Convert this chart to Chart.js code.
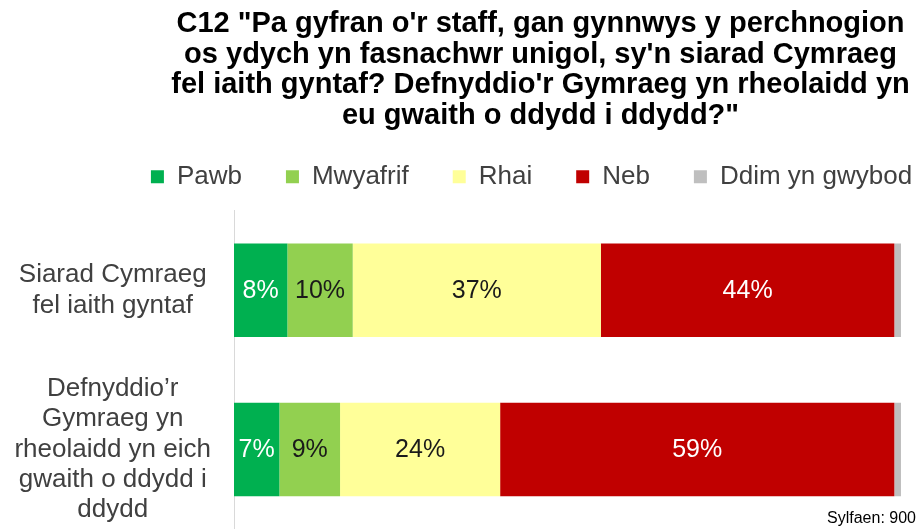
<!DOCTYPE html>
<html>
<head>
<meta charset="utf-8">
<script src="https://cdn.jsdelivr.net/npm/chart.js@4.4.0/dist/chart.umd.min.js"></script>
<style>
  html, body { margin: 0; padding: 0; background: #fff; }
  #wrap { width: 921px; height: 529px; position: relative; }
</style>
</head>
<body>
<div id="wrap"><canvas id="c12Chart"></canvas></div>
<script>
// Chart text + values
const titleLines = [
    'C12 "Pa gyfran o\'r staff, gan gynnwys y perchnogion',
    "os ydych yn fasnachwr unigol, sy'n siarad Cymraeg",
    "fel iaith gyntaf? Defnyddio'r Gymraeg yn rheolaidd yn",
    'eu gwaith o ddydd i ddydd?"'
];
const categories = [
    ['Siarad Cymraeg', 'fel iaith gyntaf'],
    ['Defnyddio’r', 'Gymraeg yn', 'rheolaidd yn eich', 'gwaith o ddydd i', 'ddydd']
];
const seriesNames = ['Pawb', 'Mwyafrif', 'Rhai', 'Neb', 'Ddim yn gwybod'];
const pawb = [8.0, 6.8];
const mwyafrif = [9.8, 9.1];
const rhai = [37.2, 24.0];
const neb = [44.0, 59.1];
const ddim = [1.0, 1.0];
const baseNote = 'Sylfaen: 900';

const FONT = '"Liberation Sans", Arial, sans-serif';

// percentage labels in the middle of each segment
const barLabels = {
    id: 'barLabels',
    afterDatasetsDraw(chart) {
        const ctx = chart.ctx;
        ctx.save();
        ctx.font = '25px ' + FONT;
        ctx.textAlign = 'center';
        ctx.textBaseline = 'middle';
        chart.data.datasets.forEach((ds, i) => {
            if (!ds.labelColor) return;
            chart.getDatasetMeta(i).data.forEach((bar, j) => {
                const c = bar.getCenterPoint();
                ctx.fillStyle = ds.labelColor;
                ctx.fillText(Math.round(ds.data[j]) + '%', c.x, c.y + 1);
            });
        });
        ctx.restore();
    }
};

// "Sylfaen" note, bottom right
const baseText = {
    id: 'baseText',
    afterDraw(chart) {
        const ctx = chart.ctx;
        ctx.save();
        ctx.font = '16px ' + FONT;
        ctx.fillStyle = '#000';
        ctx.textAlign = 'right';
        ctx.textBaseline = 'middle';
        ctx.fillText(baseNote, chart.width - 5, chart.height - 10);
        ctx.restore();
    }
};

// title and legend sit right of the canvas centre in the original
const shiftHeader = {
    id: 'shiftHeader',
    afterLayout(chart) {
        chart.titleBlock.left += 90;
        chart.titleBlock.right += 90;
        chart.legend.left += 81;
        chart.legend.right += 81;
        chart.legend.top -= 11;
        chart.legend.bottom -= 11;
    }
};

const ctx = document.getElementById('c12Chart').getContext('2d');

const chart = new Chart(ctx, {
    type: 'bar',
    data: {
        labels: categories,
        datasets: [
            { label: seriesNames[0], data: pawb, backgroundColor: '#00b050', labelColor: '#ffffff' },
            { label: seriesNames[1], data: mwyafrif, backgroundColor: '#92d050', labelColor: '#1a1a1a' },
            { label: seriesNames[2], data: rhai, backgroundColor: '#ffff99', labelColor: '#1a1a1a' },
            { label: seriesNames[3], data: neb, backgroundColor: '#c00000', labelColor: '#ffffff' },
            { label: seriesNames[4], data: ddim, backgroundColor: '#bfbfbf' }
        ]
    },
    options: {
        indexAxis: 'y',
        responsive: true,
        maintainAspectRatio: false,
        animation: false,
        layout: { padding: { left: 0, right: 20, top: 0, bottom: 0 } },
        datasets: {
            bar: {
                categoryPercentage: 1,
                barPercentage: 0.5875,
                borderWidth: 0
            }
        },
        scales: {
            x: {
                stacked: true,
                min: 0,
                max: 100,
                display: false
            },
            y: {
                stacked: true,
                grid: { display: false },
                border: { display: true, color: '#d9d9d9', width: 1 },
                ticks: {
                    autoSkip: false,
                    crossAlign: 'center',
                    padding: 15,
                    color: '#404040',
                    font: { family: FONT, size: 26, lineHeight: 1.17 }
                },
                afterFit(scale) {
                    scale.width = 234;
                    // labels fit inside the canvas already, no extra room
                    scale.paddingTop = 0;
                    scale.paddingBottom = 0;
                }
            }
        },
        plugins: {
            title: {
                display: true,
                text: titleLines,
                color: '#000',
                font: { family: FONT, size: 29, weight: 'bold', lineHeight: 1.05 },
                padding: { top: 9, bottom: 0 }
            },
            legend: {
                position: 'top',
                labels: {
                    boxWidth: 13,
                    boxHeight: 13,
                    padding: 44,
                    color: '#404040',
                    font: { family: FONT, size: 26 }
                }
            },
            tooltip: { enabled: false }
        }
    },
    plugins: [barLabels, baseText, shiftHeader]
});
</script>
</body>
</html>
